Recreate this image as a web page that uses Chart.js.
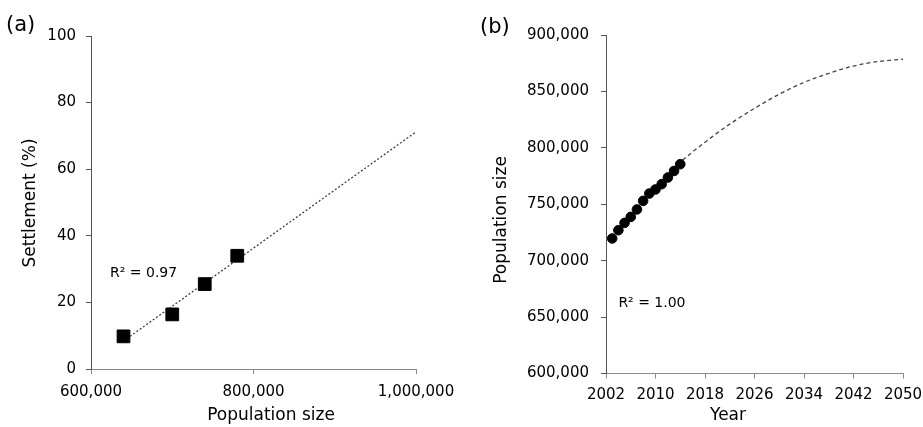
<!DOCTYPE html>
<html>
<head>
<meta charset="utf-8">
<script src="https://cdn.jsdelivr.net/npm/chart.js@4"></script>
<style>
  body { margin: 0; background: #fff; }
  .row { display: flex; width: 923px; height: 427px; }
</style>
</head>
<body>
<div class="row">
  <canvas id="chartA" width="460" height="427"></canvas>
  <canvas id="chartB" width="463" height="427"></canvas>
</div>
<script>
// (a) settlement vs population size
const popSize = [640000, 700000, 740000, 780000];
const settlement = [9.8, 16.4, 25.5, 34.0];
const fitPopSize = [640000, 1000000];
const fitSettlement = [8.4, 71.2];

// (b) population size by year
const years = [2003, 2004, 2005, 2006, 2007, 2008, 2009, 2010, 2011, 2012, 2013, 2014];
const population = [719700, 727000, 733500, 738800, 745400, 753000, 759500, 763100, 767800, 773700, 779500, 785500];
const fitYears = [2003, 2008, 2014, 2018, 2022, 2026, 2030, 2034, 2038, 2042, 2046, 2050];
const fitPopulation = [720000, 752500, 787000, 805000, 821000, 835000, 847500, 858000, 866000, 872500, 876500, 878500];

const FONT = 'DejaVu Sans';

// draws panel letters, axis titles and R² notes
const notes = {
  id: 'notes',
  afterDraw(chart, args, opts) {
    const ctx = chart.ctx;
    opts.items.forEach(t => {
      ctx.save();
      ctx.fillStyle = '#000';
      ctx.textAlign = t.align || 'left';
      ctx.textBaseline = 'middle';
      ctx.font = t.size + 'px "' + FONT + '"';
      let x = t.px, y = t.py;
      if (t.x !== undefined) {
        x = chart.scales.x.getPixelForValue(t.x);
        y = chart.scales.y.getPixelForValue(t.y);
      }
      ctx.translate(x, y);
      if (t.rotate) ctx.rotate(-Math.PI / 2);
      ctx.fillText(t.text, 0, 0);
      ctx.restore();
    });
  }
};

function axis(color, extra) {
  return Object.assign({
    type: 'linear',
    border: { display: true, color: color, width: 1 },
    grid: { display: true, drawOnChartArea: false, drawTicks: true, tickLength: 5, color: color },
  }, extra);
}

new Chart(document.getElementById('chartA'), {
  type: 'scatter',
  data: {
    datasets: [{
      data: popSize.map((v, i) => ({ x: v, y: settlement[i] })),
      pointStyle: 'rect',
      pointRadius: 9,
      backgroundColor: '#000',
      borderColor: '#000',
      borderWidth: 1
    }, {
      type: 'line',
      data: fitPopSize.map((v, i) => ({ x: v, y: fitSettlement[i] })),
      borderColor: '#333',
      borderWidth: 1.2,
      borderDash: [2, 2],
      pointRadius: 0,
      fill: false
    }]
  },
  options: {
    responsive: false,
    animation: false,
    layout: { padding: { top: 36, right: 44, left: 0, bottom: 0 } },
    plugins: {
      legend: { display: false },
      tooltip: { enabled: false },
      notes: { items: [
        { text: '(a)', size: 21, px: 6, py: 26 },
        { text: 'R² = 0.97', size: 14, x: 623400, y: 28.8 },
        { text: 'Population size', size: 17, px: 271, py: 416, align: 'center' },
        { text: 'Settlement (%)', size: 17, px: 31, py: 203, align: 'center', rotate: true }
      ] }
    },
    scales: {
      x: axis('#8a8a8a', {
        min: 600000, max: 1000000,
        afterFit: s => { s.height = 58; s.paddingRight = 0; s.paddingLeft = 0; },
        ticks: { stepSize: 200000, padding: 9, color: '#000', font: { family: FONT, size: 15 },
          callback: v => v.toLocaleString('en-US') }
      }),
      y: axis('#555', {
        min: 0, max: 100,
        afterFit: s => { s.width = 91; },
        ticks: { stepSize: 20, padding: 10, color: '#000', font: { family: FONT, size: 15 } }
      })
    }
  },
  plugins: [notes]
});

new Chart(document.getElementById('chartB'), {
  type: 'scatter',
  data: {
    datasets: [{
      data: years.map((v, i) => ({ x: v, y: population[i] })),
      pointStyle: 'circle',
      pointRadius: 4.8,
      backgroundColor: '#000',
      borderColor: '#000',
      borderWidth: 1
    }, {
      type: 'line',
      data: fitYears.map((v, i) => ({ x: v, y: fitPopulation[i] })),
      borderColor: '#444',
      borderWidth: 1.3,
      borderDash: [4, 3],
      cubicInterpolationMode: 'monotone',
      pointRadius: 0,
      fill: false
    }]
  },
  options: {
    responsive: false,
    animation: false,
    layout: { padding: { top: 35, right: 20, left: 0, bottom: 0 } },
    plugins: {
      legend: { display: false },
      tooltip: { enabled: false },
      notes: { items: [
        { text: '(b)', size: 21, px: 20, py: 28 },
        { text: 'R² = 1.00', size: 14, x: 2004, y: 662000 },
        { text: 'Year', size: 17, px: 268, py: 416, align: 'center' },
        { text: 'Population size', size: 17, px: 42, py: 220, align: 'center', rotate: true }
      ] }
    },
    scales: {
      x: axis('#8a8a8a', {
        min: 2002, max: 2050,
        afterFit: s => { s.height = 53.5; s.paddingRight = 0; s.paddingLeft = 0; },
        ticks: { stepSize: 8, padding: 8, color: '#000', font: { family: FONT, size: 15 },
          callback: v => String(v) }
      }),
      y: axis('#555', {
        min: 600000, max: 900000,
        afterFit: s => { s.width = 146; },
        ticks: { stepSize: 50000, padding: 12, color: '#000', font: { family: FONT, size: 15 },
          callback: v => v.toLocaleString('en-US') }
      })
    }
  },
  plugins: [notes]
});
</script>
</body>
</html>
